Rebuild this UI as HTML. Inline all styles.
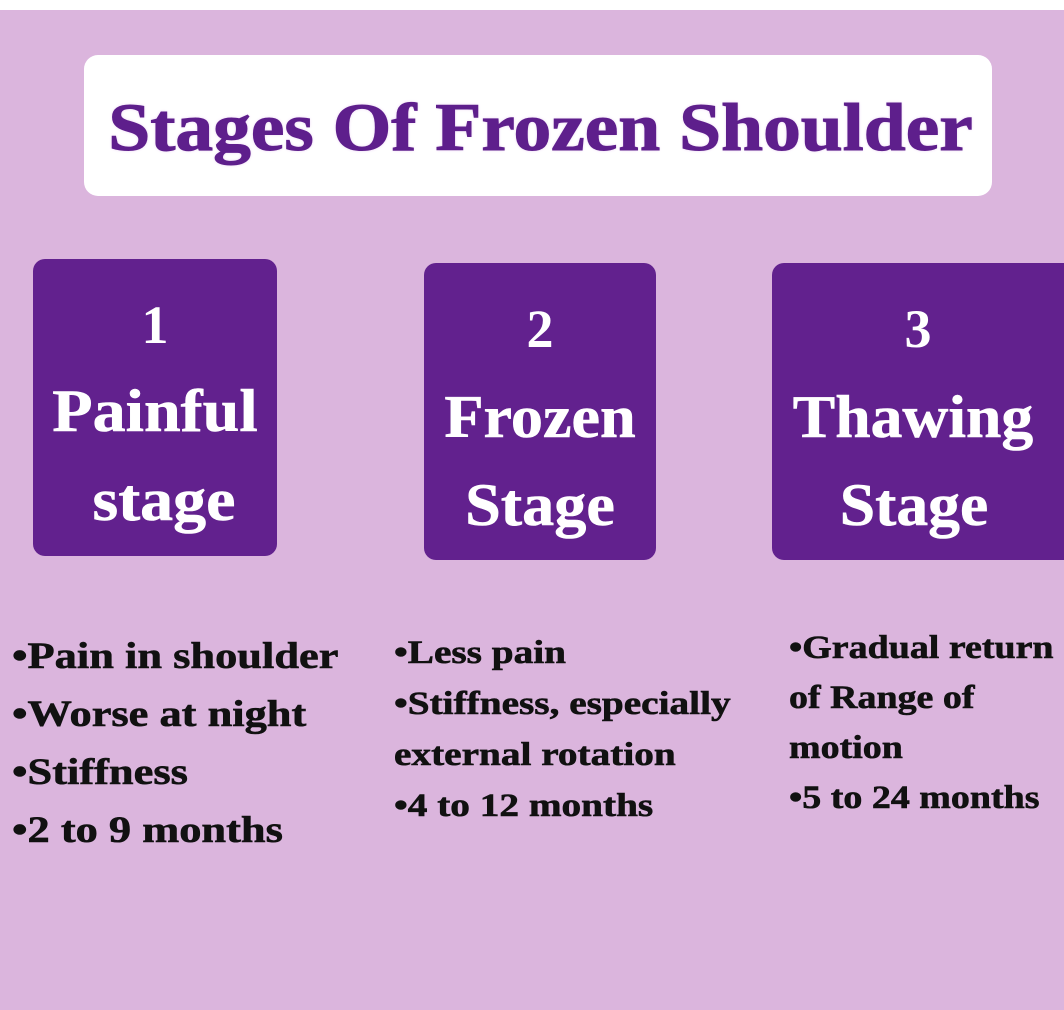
<!DOCTYPE html>
<html><head><style>
body{margin:0;width:1064px;height:1010px;background:#dbb5dd;position:relative;overflow:hidden;font-family:"Liberation Serif",serif;font-weight:bold}
.top{position:absolute;left:0;top:0;width:1064px;height:10px;background:#fff}
.title{position:absolute;left:84px;top:55px;width:908px;height:141px;background:#fff;border-radius:14px}
.title div{position:absolute;left:5px;right:0;top:32px;text-align:center;font-size:68px;color:#5e1f8c;text-shadow:0 0 3px #e6c8f0;line-height:80px;transform:scaleX(1.11);-webkit-text-stroke:1px #5e1f8c}
.box{position:absolute;background:#62218e;border-radius:12px;color:#fff;text-align:center}
.box .n{position:absolute;left:0;right:0;top:36px;font-size:54px;line-height:60px}
.box .l{position:absolute;left:0;right:0;font-size:60px;line-height:70px;-webkit-text-stroke:0.6px #fff}
.t{position:absolute;color:#111;white-space:nowrap;transform-origin:0 0;-webkit-text-stroke:0.6px #111}
</style></head><body>
<div class="top"></div>
<div class="title"><div>Stages Of Frozen Shoulder</div></div>
<div class="box" style="left:33px;top:259px;width:244px;height:297px">
<div class="n">1</div><div class="l" style="top:117px;transform:scaleX(1.1)">Painful</div><div class="l" style="top:206px;left:18px;transform:scaleX(1.1)">stage</div></div>
<div class="box" style="left:424px;top:263px;width:232px;height:297px">
<div class="n">2</div><div class="l" style="top:119px;transform:scaleX(1.07)">Frozen</div><div class="l" style="top:207px;transform:scaleX(1.07)">Stage</div></div>
<div class="box" style="left:772px;top:263px;width:310px;height:297px">
<div class="n" style="left:-18px">3</div><div class="l" style="top:119px;left:-28px;transform:scaleX(1.06)">Thawing</div><div class="l" style="top:207px;left:-26px;transform:scaleX(1.06)">Stage</div></div>
<div class="t" style="left:12px;top:628px;font-size:37px;line-height:58px;transform:scaleX(1.2)">•Pain in shoulder<br>•Worse at night<br>•Stiffness<br>•2 to 9 months</div>
<div class="t" style="left:394px;top:628px;font-size:33px;line-height:51px;transform:scaleX(1.19)">•Less pain<br>•Stiffness, especially<br>external rotation<br>•4 to 12 months</div>
<div class="t" style="left:789px;top:623px;font-size:33px;line-height:50px;transform:scaleX(1.15)">•Gradual return<br>of Range of<br>motion<br>•5 to 24 months</div>
</body></html>
